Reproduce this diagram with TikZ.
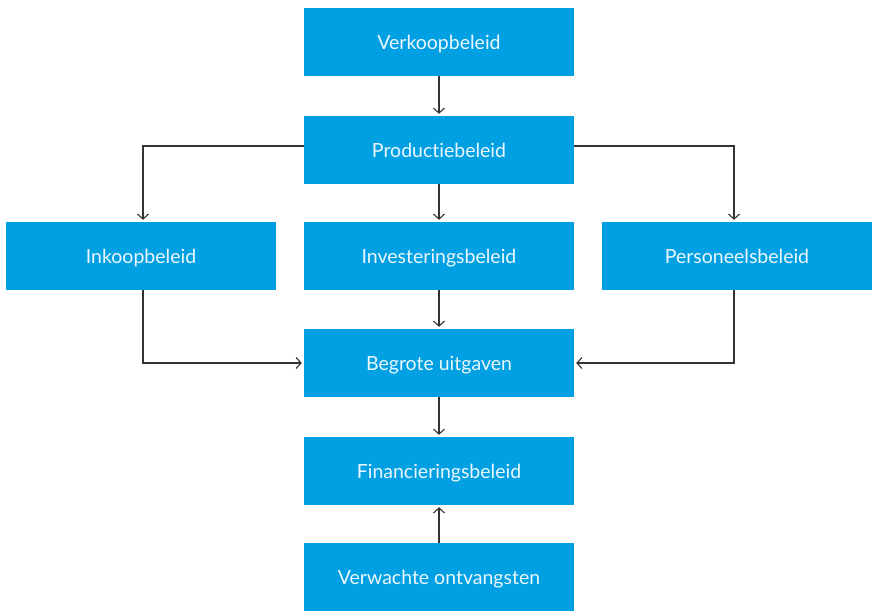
\documentclass[tikz,border=0pt]{standalone}
\usepackage{fontspec}
\setmainfont{Lato}[Ligatures={NoCommon}]
\usetikzlibrary{arrows.meta}
\definecolor{boxblue}{HTML}{00A0E3}
\definecolor{linegray}{HTML}{333333}
\begin{document}
\begin{tikzpicture}[x=1pt,y=-1pt,
  blok/.style={fill=boxblue,draw=none,minimum width=270pt,minimum height=68pt,inner sep=0pt,text height=16pt,text depth=2pt,text=white!92!boxblue,font=\fontsize{19.5}{22}\selectfont},
  pijl/.style={draw=linegray,line width=1.1pt,-{Straight Barb[length=5pt,width=11pt]},shorten >=2pt}]
\useasboundingbox (0,0) rectangle (872,610);
\node[blok] (verk) at (439,42) {Verkoopbeleid};
\node[blok] (prod) at (439,150) {Productiebeleid};
\node[blok] (ink) at (141,256) {Inkoopbeleid};
\node[blok] (inv) at (439,256) {Investeringsbeleid};
\node[blok] (pers) at (737,256) {Personeelsbeleid};
\node[blok] (beg) at (439,363) {Begrote uitgaven};
\node[blok] (fin) at (439,471) {Financieringsbeleid};
\node[blok] (verw) at (439,577) {Verwachte ontvangsten};
\coordinate (lk) at (143,146);
\coordinate (rk) at (734,146);
\coordinate (lb) at (143,363);
\coordinate (rb) at (734,363);
\draw[pijl] (verk) -- (prod);
\draw[pijl] (prod) -- (inv);
\draw[pijl] (prod.west |- lk) -- (lk) -- (lk |- ink.north);
\draw[pijl] (prod.east |- rk) -- (rk) -- (rk |- pers.north);
\draw[pijl] (lb |- ink.south) -- (lb) -- (beg.west |- lb);
\draw[pijl] (rb |- pers.south) -- (rb) -- (beg.east |- rb);
\draw[pijl] (inv) -- (beg);
\draw[pijl] (beg) -- (fin);
\draw[pijl] (verw) -- (fin);
\end{tikzpicture}
\end{document}
